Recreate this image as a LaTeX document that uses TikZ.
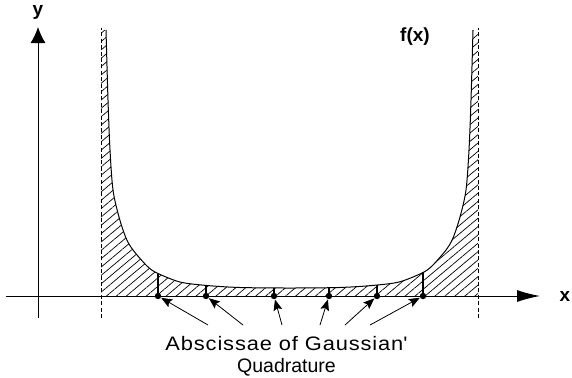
\documentclass[tikz,border=0pt]{standalone}
\usepackage{fontspec}
\setmainfont{Liberation Sans}
\usetikzlibrary{arrows.meta, patterns.meta}
\tikzset{
  axis/.style={line width=0.5pt, draw=black},
  xaxis/.style={axis, -{Latex[length=11.5pt, width=6pt]}},
  yaxis/.style={axis, -{Latex[length=8pt, width=7.5pt]}},
  wall/.style={line width=0.5pt, dash pattern=on 2pt off 1.2pt},
  curve/.style={line width=0.5pt},
  hatch/.style={pattern={Lines[angle=40, distance=3.2pt, line width=0.35pt]}},
  tick/.style={line width=0.6pt},
  qpt/.style={circle, fill=black, inner sep=0pt, minimum size=3.2pt},
  lab/.style={font=\fontsize{9.5pt}{11pt}\selectfont\bfseries, inner sep=0pt},
  note/.style={font=\fontsize{9.75pt}{11.35pt}\selectfont, align=center, inner sep=0pt},
  arr/.style={-{Stealth[length=5.5pt, width=4.4pt, inset=1pt]}, line width=0.4pt},
}
\newcommand\fcurve{plot[smooth, tension=0.5] coordinates {(473,347) (471,277) (469,227) (466,187) (460,160) (453,139) (446,127) (432,111) (422,104) (399,95) (372,91.5) (339,89.5) (289.5,89) (240,89.5) (207,91.5) (180,95) (157,104) (147,111) (133,127) (126,139) (119,160) (113,187) (110,227) (108,277) (106,347)}}

\begin{document}
\begin{tikzpicture}[x=0.5pt, y=0.5pt]
  \useasboundingbox (0,0) rectangle (572,377);
  \path[hatch] \fcurve -- (101,347) -- (101,81) -- (478,81) -- (478,347) -- cycle;
  \coordinate (xo) at (6,81);
  \coordinate (xe) at (540,81);
  \coordinate (yo) at (38,59);
  \coordinate (ye) at (38,350);
  \coordinate (wl0) at (101,59);
  \coordinate (wl1) at (101,349);
  \coordinate (wr0) at (478,59);
  \coordinate (wr1) at (478,349);
  \draw[xaxis] (xo) -- (xe);
  \draw[yaxis] (yo) -- (ye);
  \draw[wall] (wl0) -- (wl1);
  \draw[wall] (wr0) -- (wr1);
  \draw[curve] \fcurve;
  \node[lab] (ylab) at (38,365) {y};
  \node[lab] (xlab) at (565,81) {x};
  \node[lab] (flab) at (415,340) {f(x)};
  \foreach \i/\x/\t in {1/158/103.3, 2/206/91.6, 3/274/89.1, 4/329/89.1, 5/377/92.2, 6/423/104.6} {
    \node[qpt] (q\i) at (\x,81) {};
    \coordinate (t\i) at (\x,\t);
    \draw[tick] (q\i.center) -- (t\i);
  }
  \node[note, anchor=north] (note) at (286.5,41.5) {\scalebox{1.12}[1]{\addfontfeature{LetterSpace=4}Abscissae of Gaussian\textquotesingle}\\Quadrature};
  \foreach \i/\x in {1/208, 2/243, 3/282, 4/320, 5/345, 6/370} {
    \coordinate (s\i) at (\x,52);
    \draw[arr] (s\i) -- (q\i);
  }
\end{tikzpicture}
\end{document}
